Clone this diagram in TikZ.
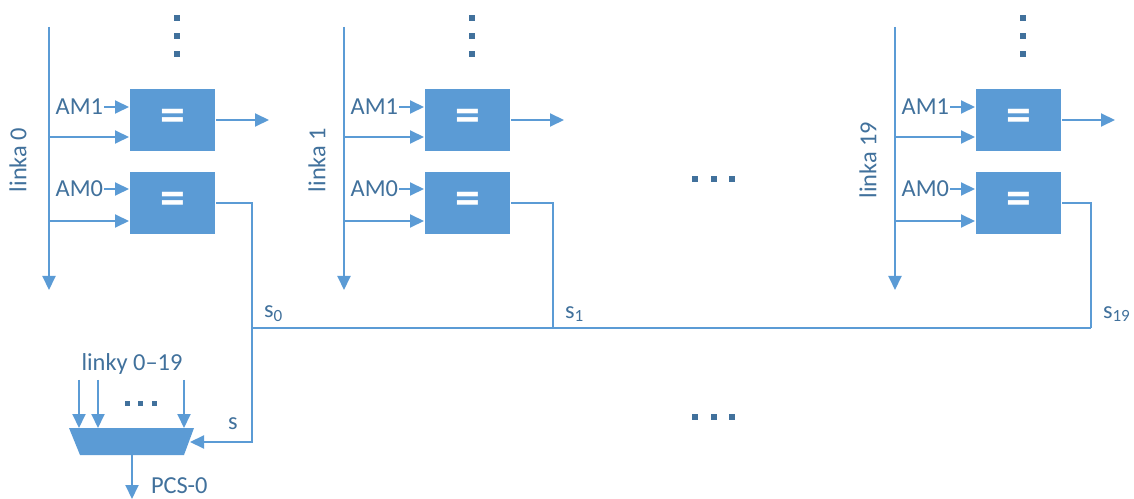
\documentclass[tikz,border=0pt]{standalone}
\usepackage{fontspec}
\setmainfont{Carlito}
\usetikzlibrary{arrows.meta,positioning}
\definecolor{eqblue}{HTML}{5B9BD5}
\definecolor{txtblue}{HTML}{41719C}

\begin{document}
\begin{tikzpicture}[x=1bp,y=-1bp,>={Triangle[length=14bp,width=13bp]},line width=2bp,
	wire/.style={draw=eqblue},
	eqbox/.style={fill=eqblue,minimum width=85bp,minimum height=62bp,inner sep=0pt,text=white,font=\fontsize{50}{50}\selectfont\bfseries},
	lbl/.style={text=txtblue,font=\fontsize{24.5}{28}\selectfont,inner sep=0pt},
	sqdot/.style={fill=txtblue,minimum size=6bp,inner sep=0pt}]
	\useasboundingbox (0,0) rectangle (1134,499);

	\foreach \i/\X/\T/\L in {0/49/252/-31, 1/344/553/-27, 19/895/1091/-27} {
		\coordinate (top\i) at (\X,27);
		\coordinate (bot\i) at (\X,290);
		\coordinate (tapA\i) at (\X,137);
		\coordinate (tapB\i) at (\X,221);
		\coordinate (bus\i) at (\T,328);
		\node[eqbox] (up\i) at ({\X+123.5},120) {=};
		\node[eqbox] (lo\i) at ({\X+123.5},203) {=};
		\node[lbl,rotate=90] (link\i) at ({\X+\L},160) {linka \i};
		\node[lbl,anchor=east] (am1\i) at ({\X+55},107) {AM1};
		\node[lbl,anchor=east] (am0\i) at ({\X+55},189) {AM0};
		\node[lbl,anchor=west] (s\i) at ({\T+11},314) {s\textsubscript{\i}};
		\foreach \y in {18,36,54}
			\node[sqdot] (vd\i-\y) at ({\X+128},\y) {};

		\draw[wire,->] (top\i) -- (bot\i);
		\draw[wire,->] (am1\i) -- (am1\i -| up\i.west);
		\draw[wire,->] (tapA\i) -- (tapA\i -| up\i.west);
		\draw[wire,->] (am0\i) -- (am0\i -| lo\i.west);
		\draw[wire,->] (tapB\i) -- (tapB\i -| lo\i.west);
		\draw[wire,->] (up\i.east) -- ++(53,0);
		\draw[wire] (lo\i.east) -| (bus\i);
	}
	\draw[wire] (bus0) -- (bus19);

	% dots between links
	\foreach \x in {695,714,732} {
		\node[sqdot] (hdA\x) at (\x,179) {};
		\node[sqdot] (hdB\x) at (\x,417) {};
	}

	% multiplexer
	\fill[eqblue] (69,428) coordinate (muxTL) -- (194,428) -- (184,455) -- (80,455) -- cycle;
	\coordinate (muxR) at (190,442);
	\coordinate (muxB) at (132,455);
	\coordinate (pcs) at (132,499);
	\node[lbl] (linky) at (132,364) {linky 0–19};
	\foreach \x in {79,98,184} {
		\coordinate (in\x) at (\x,380);
		\draw[wire,->] (in\x) -- (in\x |- muxTL);
	}
	\foreach \x in {127,140,154}
		\node[sqdot,minimum size=5bp] (md\x) at (\x,403) {};
	\draw[wire,->] (bus0) |- (muxR);
	\node[lbl] (sel) at (233,424) {s};
	\draw[wire,->] (muxB) -- (pcs);
	\node[lbl,anchor=west] (pcsl) at (150,486) {PCS-0};
\end{tikzpicture}
\end{document}
